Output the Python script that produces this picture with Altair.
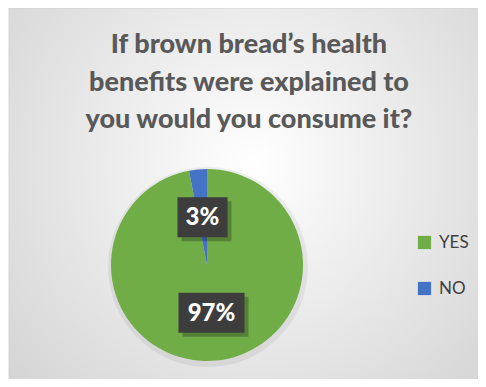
import altair as alt
import pandas as pd

categories = ["YES", "NO"]
values = [97, 3]
order = [0, 1]
colors = ["#70AD47", "#4472C4"]
title_lines = ["If brown bread\u2019s health", "benefits were explained to", "you would you consume it?"]

df = pd.DataFrame({"answer": categories, "pct": values, "order": order})

W, H = 470, 371
CX, CY, R = 199, 257, 96
LR = 48

base = alt.Chart(df)

bg = alt.Chart(pd.DataFrame({"a": [0]})).mark_rect(
    stroke="#d4d4d4", strokeWidth=1,
    color=alt.Gradient(
        gradient="radial", x1=0.5, y1=0.42, r1=0.0, x2=0.5, y2=0.42, r2=0.78,
        stops=[alt.GradientStop(offset=0, color="#ffffff"),
               alt.GradientStop(offset=1, color="#cdcdcd")])
).encode(x=alt.value(1), x2=alt.value(W + 20), y=alt.value(0), y2=alt.value(H + 20))

title = alt.Chart(pd.DataFrame({"a": [0]})).mark_text(
    font="Lato", fontWeight=900, fontSize=27, color="#595959",
    align="center", baseline="alphabetic", lineHeight=37.5
).encode(x=alt.value(241), y=alt.value(45), text=alt.value(title_lines))

halo = alt.Chart(pd.DataFrame({"a": [0]})).mark_arc(
    color="#000000", opacity=0.06, outerRadius=R + 4
).encode(theta=alt.value(6.2832), x=alt.value(CX + 1), y=alt.value(CY + 2))

color_scale = alt.Scale(domain=categories, range=colors)

pie = base.mark_arc(outerRadius=R).encode(
    theta=alt.Theta("pct:Q", stack=True),
    order=alt.Order("order:Q"),
    color=alt.Color("answer:N", scale=color_scale, sort=categories,
                    legend=alt.Legend(
                        title=None, orient="none", legendX=408, legendY=226,
                        symbolType="square", symbolSize=175, symbolStrokeWidth=0,
                        labelFont="Lato", labelFontSize=17, labelColor="#404040",
                        rowPadding=28, labelOffset=6)),
    x=alt.value(CX), y=alt.value(CY),
)

lab = base.transform_window(
    cum="sum(pct)", sort=[alt.SortField("order")]
).transform_joinaggregate(
    total="sum(pct)"
).transform_calculate(
    mid="(datum.cum - datum.pct/2) / datum.total * 2 * PI",
    label="datum.pct + '%'",
).transform_calculate(
    lx=f"{CX} + {LR} * sin(datum.mid)",
    ly=f"{CY} - {LR} * cos(datum.mid)",
    bw="18 + 16 * length(datum.label)",
).transform_calculate(
    x1="datum.lx - datum.bw / 2",
    x2="datum.lx + datum.bw / 2",
    y1="datum.ly - 20",
    y2="datum.ly + 20",
    sx1="datum.lx - datum.bw / 2 + 4",
    sx2="datum.lx + datum.bw / 2 + 4",
    sy1="datum.ly - 16",
    sy2="datum.ly + 24",
)

shadow = lab.mark_rect(color="#000000", opacity=0.25).encode(
    x=alt.X("sx1:Q", scale=None), x2="sx2:Q",
    y=alt.Y("sy1:Q", scale=None), y2="sy2:Q")

box = lab.mark_rect(color="#3d3d3d").encode(
    x=alt.X("x1:Q", scale=None), x2="x2:Q",
    y=alt.Y("y1:Q", scale=None), y2="y2:Q")

txt = lab.mark_text(font="Lato", fontWeight=900, fontSize=24, color="#ffffff",
                    align="center", baseline="middle", dy=1).encode(
    x=alt.X("lx:Q", scale=None), y=alt.Y("ly:Q", scale=None), text="label:N")

chart = alt.layer(bg, title, halo, pie, shadow, box, txt).properties(
    width=W, height=H, padding=0, autosize=alt.AutoSizeParams(type="none")
).configure_view(stroke=None)

chart.save("out.html", embed_options={"renderer": "svg", "actions": False})
